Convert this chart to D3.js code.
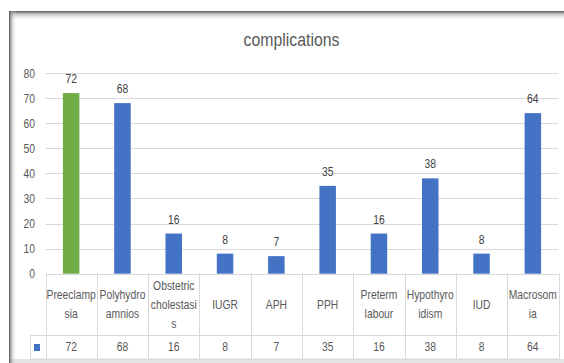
<!DOCTYPE html>
<html>
<head>
<meta charset="utf-8">
<script src="https://cdn.jsdelivr.net/npm/d3@7"></script>
<style>
  html, body { margin: 0; padding: 0; background: #fff; }
  svg { display: block; }
  text { font-family: "Liberation Sans Narrow", "Arial Narrow", "Liberation Sans", sans-serif; fill: #595959; }
</style>
</head>
<body>
<svg id="chart" width="564" height="363"></svg>
<script>
// Complications: counts per category
const categories = ["Preeclampsia", "Polyhydroamnios", "Obstetric cholestasis", "IUGR", "APH",
                    "PPH", "Preterm labour", "Hypothyroidism", "IUD", "Macrosomia"];
// Category labels as they wrap in the data table header
const categoryLines = [["Preeclamp", "sia"], ["Polyhydro", "amnios"], ["Obstetric", "cholestasi", "s"],
                       ["IUGR"], ["APH"], ["PPH"], ["Preterm", "labour"], ["Hypothyro", "idism"],
                       ["IUD"], ["Macrosom", "ia"]];
const values = [72, 68, 16, 8, 7, 35, 16, 38, 8, 64];
const yTicks = [0, 10, 20, 30, 40, 50, 60, 70, 80];
const title = "complications";

const svg = d3.select("#chart");
const W = 564, H = 363;
const SX = 0.86; // horizontal condensing for the narrow label face

// Place a condensed text element at (x, y)
function ctext(sel, x, y, str, size, anchor, fill) {
  return sel.append("text")
    .attr("transform", `translate(${x},${y}) scale(${SX},1)`)
    .attr("text-anchor", anchor || "middle")
    .style("font-size", size + "px")
    .style("fill", fill || "#595959")
    .text(str);
}

// Chart frame with inner shadow along top and left edges
const defs = svg.append("defs");
const gTop = defs.append("linearGradient").attr("id", "shTop").attr("x1", 0).attr("y1", 0).attr("x2", 0).attr("y2", 1);
gTop.append("stop").attr("offset", 0).attr("stop-color", "#4a4a4a").attr("stop-opacity", 0.95);
gTop.append("stop").attr("offset", 0.35).attr("stop-color", "#999").attr("stop-opacity", 0.5);
gTop.append("stop").attr("offset", 1).attr("stop-color", "#fff").attr("stop-opacity", 0);
const gLeft = defs.append("linearGradient").attr("id", "shLeft").attr("x1", 0).attr("y1", 0).attr("x2", 1).attr("y2", 0);
gLeft.append("stop").attr("offset", 0).attr("stop-color", "#4a4a4a").attr("stop-opacity", 0.95);
gLeft.append("stop").attr("offset", 0.35).attr("stop-color", "#999").attr("stop-opacity", 0.5);
gLeft.append("stop").attr("offset", 1).attr("stop-color", "#fff").attr("stop-opacity", 0);

const frame = { x: 9, y: 11, bottom: 359 };
svg.append("rect").attr("x", frame.x).attr("y", frame.y).attr("width", W - frame.x).attr("height", frame.bottom - frame.y)
  .attr("fill", "#fff");
svg.append("rect").attr("x", frame.x).attr("y", frame.bottom).attr("width", W - frame.x).attr("height", H - frame.bottom)
  .attr("fill", "#e3e3e3");
svg.append("rect").attr("x", frame.x).attr("y", frame.y).attr("width", W - frame.x).attr("height", 10)
  .attr("fill", "url(#shTop)");
svg.append("rect").attr("x", frame.x).attr("y", frame.y).attr("width", 8).attr("height", H - frame.y)
  .attr("fill", "url(#shLeft)");

// Title
svg.append("text")
  .attr("transform", "translate(291.5,46) scale(0.88,1)")
  .attr("text-anchor", "middle")
  .style("font-size", "18px").text(title);

// Scales
const plot = { left: 45.5, right: 558.5, top: 73, bottom: 273.7 };
const x = d3.scaleBand().domain(categories).range([plot.left, plot.right]).paddingInner(0).paddingOuter(0);
const y = d3.scaleLinear().domain([0, 80]).range([plot.bottom, plot.top]);
const barW = 16.5;

// Gridlines
svg.append("g").selectAll("line").data(yTicks).join("line")
  .attr("x1", plot.left).attr("x2", plot.right)
  .attr("y1", d => Math.round(y(d)) + 0.5).attr("y2", d => Math.round(y(d)) + 0.5)
  .attr("stroke", "#d9d9d9").attr("stroke-width", 1);

// Y axis labels (right-aligned at x = 35, condensed about that edge)
const yAxis = d3.axisLeft(y).tickValues(yTicks).tickSize(0).tickPadding(0);
const ya = svg.append("g").attr("transform", "translate(35,0)").call(yAxis);
ya.select(".domain").remove();
ya.selectAll("text")
  .style("font-size", "12px")
  .style("fill", "#595959")
  .style("font-family", "'Liberation Sans Narrow', 'Arial Narrow', 'Liberation Sans', sans-serif")
  .attr("dy", "0.35em")
  .attr("transform", `scale(${SX},1)`);

// Bars (first category highlighted in green)
svg.append("g").selectAll("rect").data(values).join("rect")
  .attr("x", (d, i) => x(categories[i]) + x.bandwidth() / 2 - barW / 2)
  .attr("width", barW)
  .attr("y", d => y(d))
  .attr("height", d => y(0) - y(d))
  .attr("fill", (d, i) => i === 0 ? "#70ad47" : "#4472c4");

// Value labels above bars
const vl = svg.append("g");
values.forEach((v, i) => {
  ctext(vl, x(categories[i]) + x.bandwidth() / 2, y(v) - 10, v, 12, "middle", "#404040");
});

// Data table below the plot
const table = { top: plot.bottom, mid: 335.5, bottom: 359, keyLeft: 30.5 };
const tg = svg.append("g").attr("stroke", "#d9d9d9").attr("stroke-width", 1).attr("fill", "none");
tg.append("line").attr("x1", table.keyLeft).attr("x2", plot.right).attr("y1", table.mid).attr("y2", table.mid);
tg.append("line").attr("x1", table.keyLeft).attr("x2", plot.right).attr("y1", table.bottom).attr("y2", table.bottom);
const bounds = categories.map(c => x(c)).concat([plot.right]);
tg.selectAll("line.v").data(bounds).join("line").attr("class", "v")
  .attr("x1", d => Math.round(d) + 0.5).attr("x2", d => Math.round(d) + 0.5)
  .attr("y1", table.top).attr("y2", table.bottom);
tg.append("line").attr("x1", table.keyLeft).attr("x2", table.keyLeft).attr("y1", table.mid).attr("y2", table.bottom);

// Header cells: wrapped category names
const lineH = 19;
const headG = svg.append("g");
categoryLines.forEach((lines, i) => {
  const cx = x(categories[i]) + x.bandwidth() / 2;
  const cy = (table.top + table.mid) / 2;
  const startY = cy - (lines.length - 1) * lineH / 2 + 4;
  lines.forEach((ln, j) => ctext(headG, cx, startY + j * lineH, ln, 12));
});

// Value cells
const vc = svg.append("g");
values.forEach((v, i) => {
  ctext(vc, x(categories[i]) + x.bandwidth() / 2, (table.mid + table.bottom) / 2 + 4, v, 12);
});

// Legend key
svg.append("rect").attr("x", 34).attr("y", 344).attr("width", 6).attr("height", 7).attr("fill", "#4472c4");
</script>
</body>
</html>
